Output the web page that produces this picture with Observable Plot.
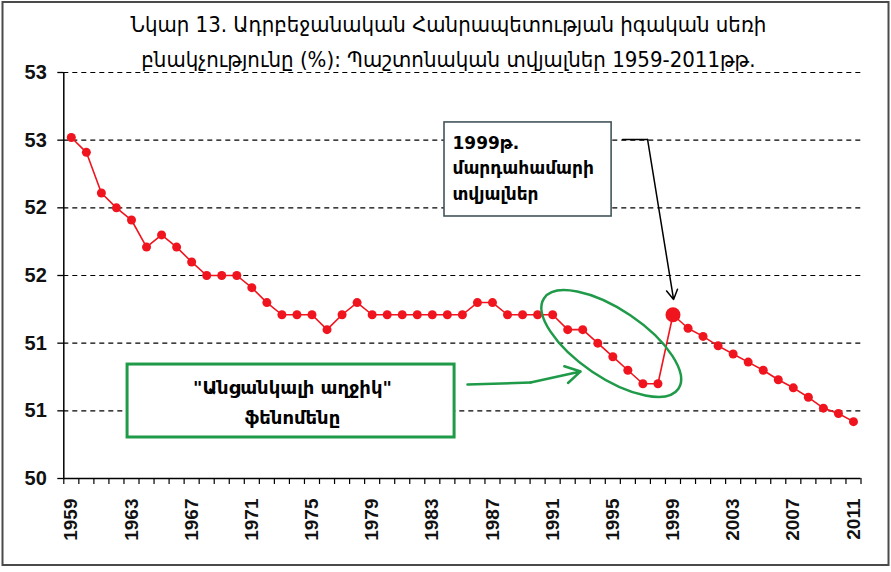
<!DOCTYPE html>
<html><head><meta charset="utf-8">
<script src="https://cdn.jsdelivr.net/npm/d3@7"></script>
<script src="https://cdn.jsdelivr.net/npm/@observablehq/plot@0.6"></script>
<style>body{margin:0;background:#fff}</style>
</head><body><div id="chart"></div>
<script>
const years = [1959,1960,1961,1962,1963,1964,1965,1966,1967,1968,1969,1970,1971,1972,1973,1974,1975,1976,1977,1978,1979,1980,1981,1982,1983,1984,1985,1986,1987,1988,1989,1990,1991,1992,1993,1994,1995,1996,1997,1998,1999,2000,2001,2002,2003,2004,2005,2006,2007,2008,2009,2010,2011];
const values = [52.52,52.41,52.11,52.00,51.91,51.71,51.80,51.71,51.60,51.50,51.50,51.50,51.41,51.30,51.21,51.21,51.21,51.10,51.21,51.30,51.21,51.21,51.21,51.21,51.21,51.21,51.21,51.30,51.30,51.21,51.21,51.21,51.21,51.10,51.10,51.00,50.90,50.80,50.70,50.70,51.21,51.11,51.05,50.98,50.92,50.86,50.80,50.73,50.67,50.60,50.52,50.48,50.42];
const labelYears = [1959,1963,1967,1971,1975,1979,1983,1987,1991,1995,1999,2003,2007,2011];
const yTicks = [50,50.5,51,51.5,52,52.5,53];
const highlightYear = 1999;
const title1 = "Նկար 13. Ադրբեջանական Հանրապետության իգական սեռի";
const title2 = "բնակչությունը (%): Պաշտոնական տվյալներ 1959-2011թթ.";
const censusNote = "1999թ.\nմարդահամարի\nտվյալներ";
const girlNote1 = "\"Անցանկալի աղջիկ\"";
const girlNote2 = "ֆենոմենը";

const data = years.map((year, i) => ({year, value: values[i]}));
const boundaries = years.map(y => y - 0.5).concat([years[years.length - 1] + 0.5]);
const highlight = data.filter(d => d.year === highlightYear);
const RED = "#f0141e", GREEN = "#1f9a48", BOXSTROKE = "#42555b";
const AX = "Liberation Sans, Arial, sans-serif";
const ARM = "DejaVu Sans, sans-serif";

function ellipseMark(index, scales) {
  const cx = scales.x(1994.93), cy = scales.y(50.994);
  const e = d3.create("svg:ellipse")
    .attr("rx", 81).attr("ry", 34)
    .attr("transform", `translate(${cx},${cy}) rotate(34)`)
    .attr("fill", "none").attr("stroke", GREEN).attr("stroke-width", 2.5);
  return e.node();
}
function borderMark() {
  return d3.create("svg:rect").attr("x", 2.5).attr("y", 2).attr("width", 886).attr("height", 563)
    .attr("fill", "none").attr("stroke", "#4a4a4a").attr("stroke-width", 2).node();
}

const chart = Plot.plot({
  width: 891, height: 572,
  marginLeft: 63.3, marginRight: 30.5, marginTop: 72, marginBottom: 94,
  style: {background: "#fff", fontFamily: AX, overflow: "visible"},
  x: {domain: [1958.5, 2011.5]},
  y: {domain: [50, 53]},
  marks: [
    Plot.ruleY(yTicks.filter(t => t > 50), {x1: 1958.5, x2: 2011.5, stroke: "#000", strokeWidth: 1.2, strokeDasharray: "5,4"}),
    Plot.ruleY([50], {x1: 1958.5, x2: 2011.5, stroke: "#000", strokeWidth: 1.5}),
    Plot.ruleX([1958.5], {y1: 50, y2: 53, stroke: "#000", strokeWidth: 1.5}),
    Plot.axisY(yTicks, {tickFormat: d => String(Math.round(d)), tickSize: 6, tickPadding: 11, fontSize: 20, fontWeight: "bold", fontFamily: AX, fill: "#111", label: null, strokeWidth: 1.3}),
    Plot.axisX(boundaries, {tickFormat: () => "", tickSize: 6, label: null, strokeWidth: 1.2}),
    Plot.axisX(labelYears, {tickFormat: d => String(d), tickSize: 0, tickRotate: -90, tickPadding: 20, fontSize: 19, fontWeight: "bold", fontFamily: AX, fill: "#111", label: null}),
    Plot.line(data, {x: "year", y: "value", stroke: RED, strokeWidth: 1.6}),
    Plot.dot(data, {x: "year", y: "value", r: 4.5, fill: RED}),
    Plot.dot(highlight, {x: "year", y: "value", r: 7.5, fill: RED}),
    ellipseMark,
    // census annotation
    Plot.line([[1995.65, 52.505], [1997.31, 52.505]], {stroke: "#000", strokeWidth: 1.5}),
    Plot.arrow([0], {x1: 1997.31, y1: 52.505, x2: 1999.04, y2: 51.323, stroke: "#000", strokeWidth: 1.5, headLength: 11}),
    Plot.rect([0], {x1: 1983.81, x2: 1994.92, y1: 52.631, y2: 51.936, fill: "#fff", stroke: BOXSTROKE, strokeWidth: 1.6}),
    Plot.text([censusNote], {x: 1984.34, y: 52.571, text: d => d, textAnchor: "start", lineAnchor: "top", lineHeight: 1.5, fontSize: 17, fontWeight: "bold", fontFamily: ARM, fill: "#000"}),
    // girl phenomenon annotation
    Plot.line([[1985.34, 50.695], [1989.53, 50.709]], {stroke: GREEN, strokeWidth: 2.5}),
    Plot.arrow([0], {x1: 1989.53, y1: 50.709, x2: 1992.86, y2: 50.791, stroke: GREEN, strokeWidth: 2.5, headLength: 12}),
    Plot.rect([0], {x1: 1962.74, x2: 1984.48, y1: 50.842, y2: 50.303, fill: "#fff", stroke: GREEN, strokeWidth: 3}),
    Plot.text([girlNote1], {x: 1973.7, y: 50.628, text: d => d, lineAnchor: "bottom", fontSize: 18, fontWeight: "bold", fontFamily: ARM, fill: "#000"}),
    Plot.text([girlNote2], {x: 1973.7, y: 50.406, text: d => d, lineAnchor: "bottom", fontSize: 18, fontWeight: "bold", fontFamily: ARM, fill: "#000"}),
    // title
    Plot.text([title1], {frameAnchor: "top", dx: -14, dy: -41, text: d => d, lineAnchor: "bottom", fontSize: 22, fontFamily: "DejaVu Sans Condensed, DejaVu Sans, sans-serif", fill: "#000"}),
    Plot.text([title2], {frameAnchor: "top", dx: -14, dy: -6, text: d => d, lineAnchor: "bottom", fontSize: 22, fontFamily: "DejaVu Sans Condensed, DejaVu Sans, sans-serif", fill: "#000"}),
    borderMark
  ]
});
document.getElementById("chart").appendChild(chart);
</script>
</body></html>
